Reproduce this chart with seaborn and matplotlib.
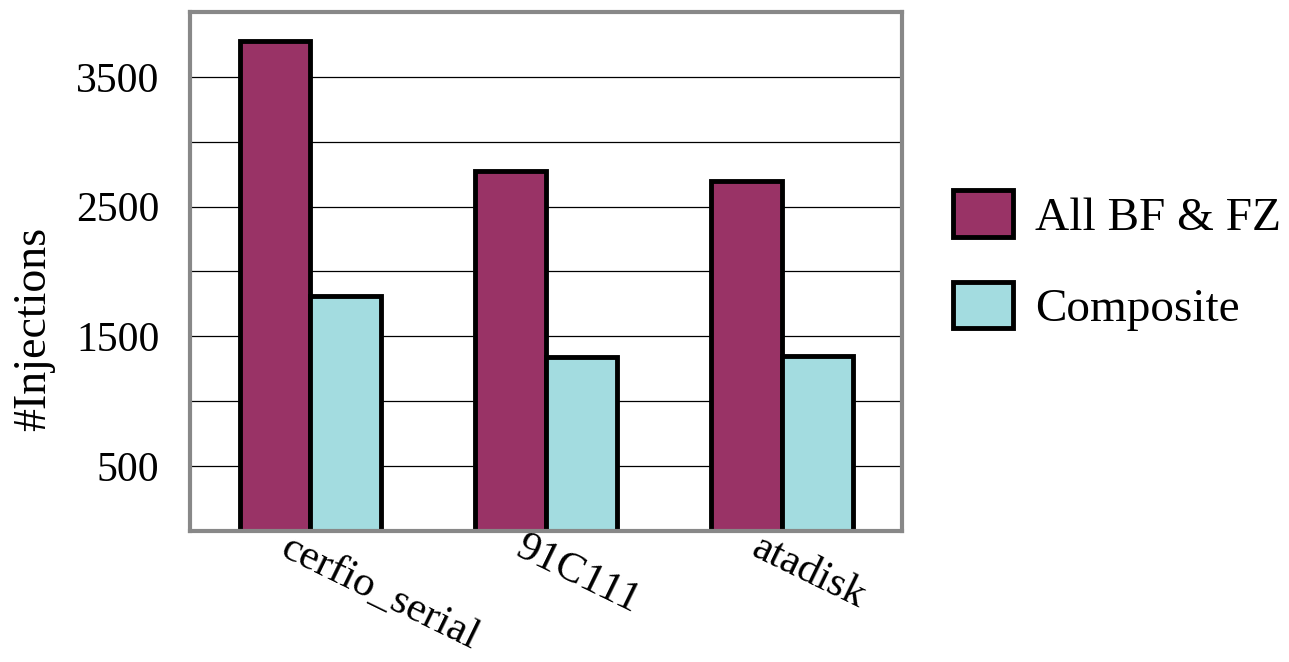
import matplotlib
matplotlib.use("Agg")
import matplotlib.pyplot as plt
import matplotlib.patches as mpatches
import matplotlib.transforms as mtransforms
import pandas as pd
import seaborn as sns

# data
drivers = ["cerfio_serial", "91C111", "atadisk"]
all_bf_fz = [3775, 2774, 2694]
composite = [1814, 1338, 1349]
series_names = ["All BF & FZ", "Composite"]
colors = ["#993366", "#A3DCE0"]

df = pd.DataFrame({
    "driver": drivers * 2,
    "series": [series_names[0]] * 3 + [series_names[1]] * 3,
    "value": all_bf_fz + composite,
})

sns.set_style("white")
plt.rcParams["font.family"] = ["Liberation Serif", "DejaVu Serif"]
plt.rcParams["text.color"] = "black"
plt.rcParams["xtick.color"] = "black"
plt.rcParams["ytick.color"] = "black"
plt.rcParams["axes.labelcolor"] = "black"

fig = plt.figure(figsize=(12.89, 6.62), dpi=100)
ax = fig.add_axes([0.1474, 0.198, 0.5524, 0.784])

sns.barplot(data=df, x="driver", y="value", hue="series", order=drivers,
            hue_order=series_names, palette=colors, width=0.6,
            edgecolor="black", linewidth=3.5, saturation=1, legend=False, ax=ax)

ax.set_xlim(-0.51, 2.51)
ax.set_ylim(0, 4000)
ax.set_yticks([500, 1500, 2500, 3500])
ax.set_yticks([1000, 2000, 3000], minor=True)
ax.grid(True, which="both", axis="y", color="black", linewidth=0.9)
ax.set_axisbelow(True)
ax.tick_params(axis="both", which="both", length=0)
ax.tick_params(axis="y", labelsize=30, pad=22)
ax.tick_params(axis="x", labelsize=31, pad=2)

for s in ax.spines.values():
    s.set_visible(True)
    s.set_color("#888888")
    s.set_linewidth(3)

# slanted x labels, shifted a bit left of each tick
shift = mtransforms.ScaledTranslation(-0.36, 0.05, fig.dpi_scale_trans)
for lab in ax.get_xticklabels():
    lab.set_rotation(-26)
    lab.set_ha("left")
    lab.set_va("top")
    lab.set_transform(lab.get_transform() + shift)

ax.set_xlabel("")
ax.set_ylabel("#Injections", fontsize=33)
ax.yaxis.set_label_coords(-0.19, 0.39)

handles = [mpatches.Patch(facecolor=c, edgecolor="black", linewidth=3.5) for c in colors]
fig.legend(handles, series_names, loc="center left", bbox_to_anchor=(0.739, 0.606),
           frameon=False, fontsize=34, handlelength=1.28, handleheight=1.13,
           handletextpad=0.47, labelspacing=0.9, borderpad=0, borderaxespad=0)

fig.savefig("out.png", dpi=100)
